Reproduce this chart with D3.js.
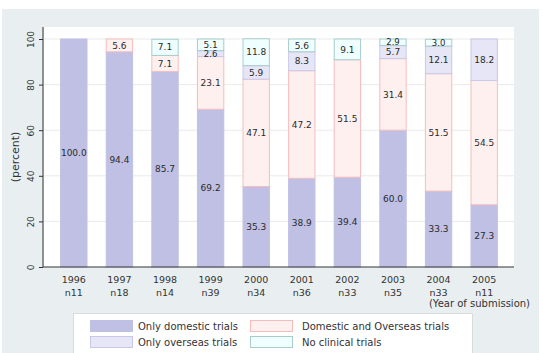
<!DOCTYPE html>
<html><head><meta charset="utf-8">
<script src="https://cdn.jsdelivr.net/npm/d3@7"></script>
<style>body{margin:0;background:#fff}svg{display:block;font-family:"DejaVu Sans",sans-serif}</style>
</head><body>
<script>
const years = ["1996","1997","1998","1999","2000","2001","2002","2003","2004","2005"];
const counts = ["n11","n18","n14","n39","n34","n36","n33","n35","n33","n11"];
const onlyDomestic = [100.0,94.4,85.7,69.2,35.3,38.9,39.4,60.0,33.3,27.3];
const domesticOverseas = [0,5.6,7.1,23.1,47.1,47.2,51.5,31.4,51.5,54.5];
const onlyOverseas = [0,0,0,2.6,5.9,8.3,0,5.7,12.1,18.2];
const noClinical = [0,0,7.1,5.1,11.8,5.6,9.1,2.9,3.0,0];
const yTicks = [0,20,40,60,80,100];
const seriesNames = ["Only domestic trials","Domestic and Overseas trials","Only overseas trials","No clinical trials"];

const W=543,H=353;
const svg=d3.select("body").append("svg").attr("width",W).attr("height",H);
svg.append("rect").attr("x",2).attr("y",9).attr("width",537).attr("height",344).attr("fill","#e9eff1");
const pl=44,pr=514,pt=27,pb=267;
svg.append("rect").attr("x",pl).attr("y",pt).attr("width",pr-pl).attr("height",pb-pt).attr("fill","#fff");

const x=d3.scaleBand().domain(years).range([pl,pr]).paddingInner(0.4).paddingOuter(0.354);
const y=d3.scaleLinear().domain([0,100]).range([pb,39]);

// grid
svg.append("g").selectAll("line").data(yTicks.filter(d=>d>0)).join("line")
 .attr("x1",pl).attr("x2",pr).attr("y1",d=>y(d)).attr("y2",d=>y(d))
 .attr("stroke","#eaeaea").attr("stroke-width",1);

const styles=[
 {fill:"#bfc0e4",stroke:"#bfc0e4"},
 {fill:"#fff0f0",stroke:"#f6bcbc"},
 {fill:"#e6e6f6",stroke:"#c8c8ea"},
 {fill:"#effefe",stroke:"#a8cccc"}
];
const data=years.map((yr,i)=>({year:yr,s0:onlyDomestic[i],s1:domesticOverseas[i],s2:onlyOverseas[i],s3:noClinical[i]}));
const stack=d3.stack().keys(["s0","s1","s2","s3"])(data);
stack.forEach((layer,k)=>{
  const g=svg.append("g");
  layer.forEach((d)=>{
    const v=d[1]-d[0];
    if(v<=0) return;
    g.append("rect").attr("x",x(d.data.year)+0.5).attr("width",x.bandwidth()-1)
     .attr("y",y(d[1])).attr("height",y(d[0])-y(d[1]))
     .attr("fill",styles[k].fill).attr("stroke",styles[k].stroke).attr("stroke-width",1);
  });
});
stack.forEach((layer,k)=>{
  layer.forEach(d=>{
    const v=d[1]-d[0];
    if(v<=0) return;
    svg.append("text").attr("x",x(d.data.year)+x.bandwidth()/2).attr("y",y((d[0]+d[1])/2))
     .attr("dy","0.35em").attr("text-anchor","middle").attr("font-size",v<4?8.5:9).attr("fill","#2a2a2a")
     .text(v.toFixed(1));
  });
});

// axes
const ya=svg.append("g").attr("transform",`translate(${pl-1},0)`)
 .call(d3.axisLeft(y).tickValues(yTicks).tickSize(4).tickFormat(d3.format("d")));
ya.select(".domain").attr("d",`M0,${pt}V${pb}`).attr("stroke","#333");
ya.selectAll(".tick line").attr("stroke","#333");
ya.selectAll(".tick text").attr("transform","rotate(-90)").attr("x",0).attr("y",-9)
 .attr("dy","0").attr("text-anchor","middle").attr("font-size",9).attr("fill","#333")
 .attr("font-family","DejaVu Sans");
svg.append("line").attr("x1",pl-1).attr("x2",pr).attr("y1",pb).attr("y2",pb).attr("stroke","#333");
svg.append("text").attr("transform","translate(19,157) rotate(-90)").attr("text-anchor","middle")
 .attr("font-size",11).attr("fill","#333").text("(percent)");

const xl=svg.append("g");
years.forEach((yr,i)=>{
  const cx=x(yr)+x.bandwidth()/2;
  xl.append("text").attr("x",cx).attr("y",283).attr("text-anchor","middle").attr("font-size",9.5).attr("fill","#333").text(yr);
  xl.append("text").attr("x",cx).attr("y",296).attr("text-anchor","middle").attr("font-size",9.5).attr("fill","#333").text(counts[i]);
});
svg.append("text").attr("x",530).attr("y",307).attr("text-anchor","end").attr("font-size",10).attr("fill","#333").text("(Year of submission)");

// legend
svg.append("rect").attr("x",73.5).attr("y",313.5).attr("width",399).attr("height",45).attr("fill","#fff").attr("stroke","#d8dcdc");
const legPos=[[90,320],[250,320],[90,336],[250,336]];
seriesNames.forEach((nm,k)=>{
  const [lx,ly]=legPos[k];
  svg.append("rect").attr("x",lx+0.5).attr("y",ly+0.5).attr("width",42).attr("height",11)
   .attr("fill",styles[k].fill).attr("stroke",styles[k].stroke);
  svg.append("text").attr("x",lx+(k%2?52:48)).attr("y",ly+6).attr("dy","0.35em").attr("font-size",10).attr("fill","#333").text(nm);
});
</script>
</body></html>
